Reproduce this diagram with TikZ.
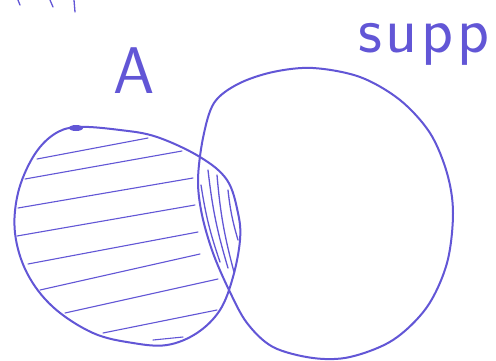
\documentclass[tikz,border=0pt]{standalone}
\usepackage{fontspec}
\definecolor{pen}{RGB}{98,86,214}
\begin{document}
\begin{tikzpicture}[x=1pt,y=-1pt,
  outline/.style={draw=pen,line width=2pt,line cap=round,line join=round},
  hatchline/.style={draw=pen,line width=1.1pt,line cap=round},
  lensline/.style={draw=pen,line width=1.3pt,line cap=round},
  handtext/.style={text=pen,font=\sffamily\fontsize{66}{66}\selectfont,inner sep=0pt}]
\useasboundingbox[fill=white] (0,0) rectangle (496,360);
% left set A
\draw[outline] plot[smooth cycle,tension=0.6] coordinates {
  (77,127) (120,130) (157,137) (200,157) (227,180) (238,213) (240,240)
  (233,277) (220,310) (197,333) (167,345) (133,343) (93,333) (53,307)
  (27,273) (15,233) (18,193) (33,157) (53,135)};
\fill[pen] (76,128) ellipse [x radius=7, y radius=3];
% right set supp
\draw[outline] plot[smooth cycle,tension=0.55] coordinates {
  (214,103) (238,84) (273,72) (313,68) (360,77) (400,100) (430,133)
  (447,173) (453,213) (447,263) (427,307) (393,340) (350,357) (313,358)
  (273,347) (247,323) (229,290) (213,253) (202,215) (198,180) (203,138)};
% horizontal hatching in A
\draw[hatchline] (37,159) -- (148,138);
\draw[hatchline] (25,179) -- (182,151);
\draw[hatchline] (18,208) -- (193,178);
\draw[hatchline] (17,236) -- (195,205);
\draw[hatchline] (28,264) -- (198,232);
\draw[hatchline] (40,290) -- (200,254);
\draw[hatchline] (65,313) -- (218,279);
\draw[hatchline] (103,333) -- (217,310);
\draw[hatchline] (153,340) -- (183,337);
% vertical hatching in the lens
\draw[lensline] (201,185) to[bend right=5] (220,262);
\draw[lensline] (208,170) to[bend right=5] (228,268);
\draw[lensline] (217,175) to[bend right=5] (234,272);
\draw[lensline] (228,190) to[bend right=5] (238,240);
% fragments at the top edge
\draw[lensline] (18,0) -- (20,5);
\draw[lensline] (50,0) -- (53,7);
\draw[lensline] (74,0) -- (75,12);
% labels
\node[handtext,anchor=base] (labelA) at (134,93) {A};
\node[handtext,anchor=base west] (labelSupp) at (358,52) {s\kern4pt u\kern4pt p\kern4pt p};
\end{tikzpicture}
\end{document}
